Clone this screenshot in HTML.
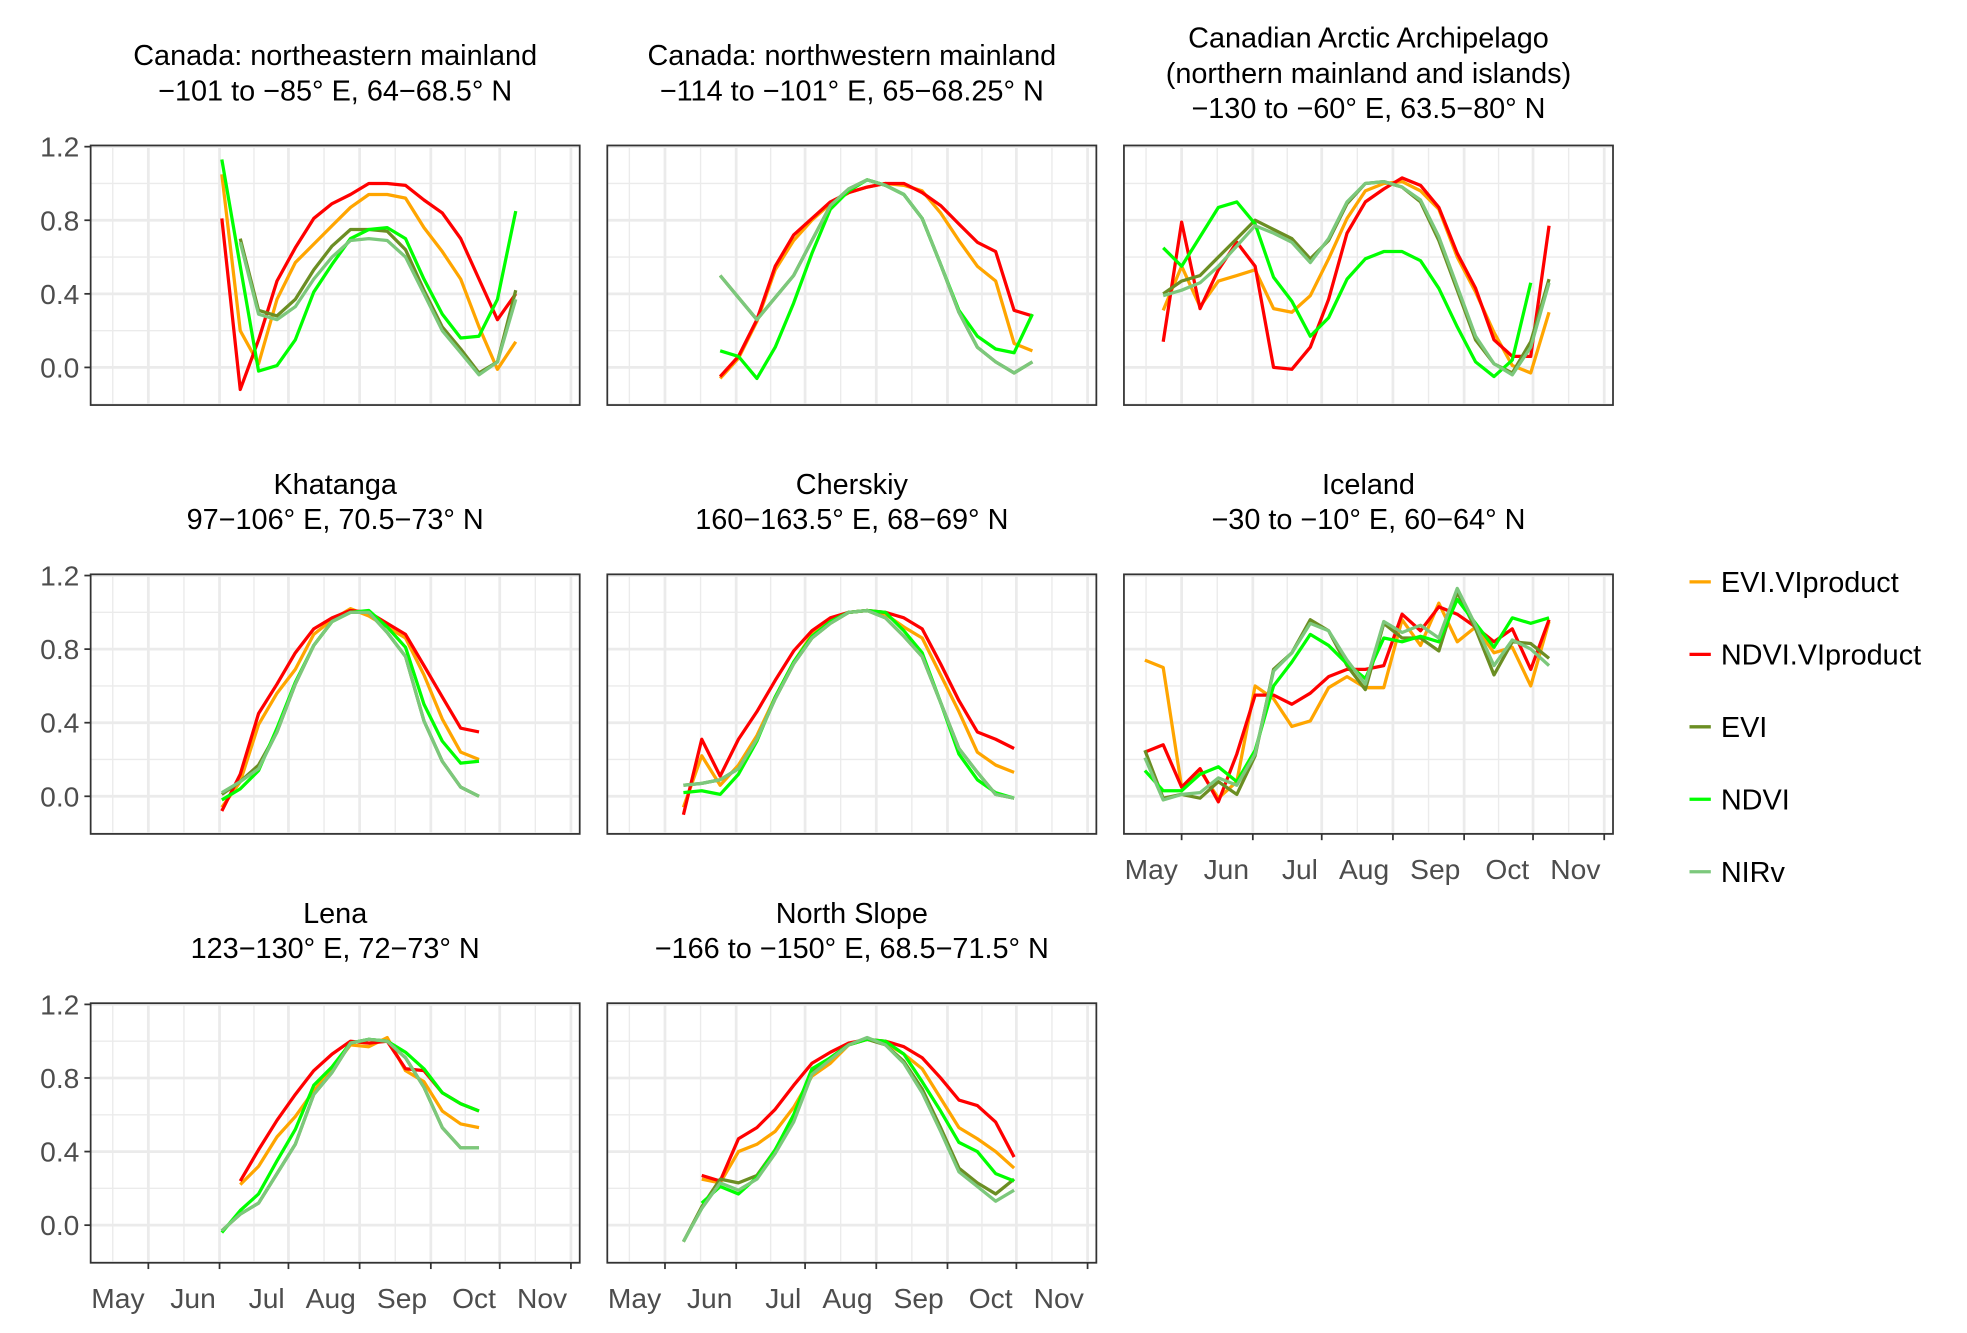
<!DOCTYPE html>
<html><head><meta charset="utf-8"><style>
html,body{margin:0;padding:0;background:#fff;}
svg{display:block;font-family:"Liberation Sans",Arial,sans-serif;}
</style></head><body>
<svg id="chart" width="1967" height="1333" viewBox="0 0 1568 1063" xmlns="http://www.w3.org/2000/svg"></svg>
<script>
// ---- data ----
const panelTitles = [
  ["Canada: northeastern mainland","\u2212101 to \u221285\u00b0 E, 64\u221268.5\u00b0 N"],
  ["Canada: northwestern mainland","\u2212114 to \u2212101\u00b0 E, 65\u221268.25\u00b0 N"],
  ["Canadian Arctic Archipelago","(northern mainland and islands)","\u2212130 to \u221260\u00b0 E, 63.5\u221280\u00b0 N"],
  ["Khatanga","97\u2212106\u00b0 E, 70.5\u221273\u00b0 N"],
  ["Cherskiy","160\u2212163.5\u00b0 E, 68\u221269\u00b0 N"],
  ["Iceland","\u221230 to \u221210\u00b0 E, 60\u221264\u00b0 N"],
  ["Lena","123\u2212130\u00b0 E, 72\u221273\u00b0 N"],
  ["North Slope","\u2212166 to \u2212150\u00b0 E, 68.5\u221271.5\u00b0 N"]
];
const startDoy = [153,145,113,153,129,105,153,129];
const seriesNames = ["EVI.VIproduct","NDVI.VIproduct","EVI","NDVI","NIRv"];
const seriesColors = ["#FFA500","#FF0000","#6B8E23","#00FF00","#7CC87C"];
const yTicks = [0.0,0.4,0.8,1.2];
const yTickLabels = ["0.0","0.4","0.8","1.2"];
const monthLabels = ["May","Jun","Jul","Aug","Sep","Oct","Nov"];
const monthDoy = [121,152,182,213,244,274,305];

const evip = [
 [1.05,0.2,0.02,0.37,0.57,0.67,0.77,0.87,0.94,0.94,0.92,0.76,0.63,0.48,0.22,-0.01,0.14],
 [-0.06,0.05,0.25,0.53,0.69,0.80,0.89,0.95,0.98,1.0,0.99,0.96,0.84,0.69,0.55,0.47,0.13,0.09],
 [0.31,0.55,0.33,0.47,0.50,0.53,0.32,0.30,0.39,0.59,0.81,0.96,1.0,1.01,0.96,0.86,0.60,0.41,0.19,0.01,-0.03,0.30],
 [-0.06,0.08,0.39,0.56,0.69,0.88,0.96,1.02,0.98,0.92,0.86,0.66,0.42,0.24,0.20],
 [-0.06,0.22,0.06,0.17,0.33,0.54,0.73,0.88,0.95,1.0,1.01,0.99,0.92,0.86,0.66,0.46,0.24,0.17,0.13],
 [0.74,0.70,0.05,0.14,-0.01,0.08,0.60,0.53,0.38,0.41,0.59,0.65,0.59,0.59,0.96,0.82,1.05,0.84,0.92,0.78,0.81,0.60,0.95],
 [null,0.22,0.32,0.48,0.59,0.73,0.85,0.98,0.97,1.02,0.84,0.78,0.62,0.55,0.53],
 [null,0.25,0.23,0.40,0.44,0.51,0.64,0.81,0.88,0.98,1.01,0.99,0.93,0.85,0.69,0.53,0.47,0.40,0.31]
];
const ndvip = [
 [0.81,-0.12,0.15,0.47,0.65,0.81,0.89,0.94,1.0,1.0,0.99,0.91,0.84,0.70,0.48,0.26,0.40],
 [-0.05,0.06,0.26,0.55,0.72,0.81,0.90,0.95,0.98,1.0,1.0,0.95,0.88,0.78,0.68,0.63,0.31,0.28],
 [0.14,0.79,0.32,0.53,0.68,0.55,0.0,-0.01,0.11,0.37,0.73,0.90,0.97,1.03,0.99,0.87,0.62,0.43,0.15,0.06,0.06,0.77],
 [-0.08,0.12,0.45,0.61,0.78,0.91,0.97,1.01,1.0,0.94,0.88,0.71,0.54,0.37,0.35],
 [-0.10,0.31,0.11,0.31,0.46,0.63,0.79,0.90,0.97,1.0,1.01,1.0,0.97,0.91,0.72,0.52,0.35,0.31,0.26],
 [0.24,0.28,0.05,0.15,-0.03,0.23,0.55,0.55,0.50,0.56,0.65,0.69,0.69,0.71,0.99,0.90,1.03,0.99,0.92,0.84,0.91,0.69,0.96],
 [null,0.24,0.41,0.57,0.71,0.84,0.93,1.0,0.99,1.0,0.85,0.84,0.72,0.66,0.62],
 [null,0.27,0.24,0.47,0.53,0.63,0.76,0.88,0.94,0.99,1.01,1.0,0.97,0.91,0.80,0.68,0.65,0.56,0.37]
];
const evi = [
 [null,0.70,0.31,0.28,0.37,0.53,0.66,0.75,0.75,0.74,0.64,0.42,0.22,0.10,-0.03,0.03,0.42],
 [0.50,0.38,0.26,0.38,0.50,0.69,0.88,0.97,1.02,0.99,0.94,0.81,0.56,0.30,0.11,0.03,-0.03,0.03],
 [0.40,0.47,0.50,0.60,0.70,0.80,0.75,0.70,0.59,0.69,0.89,1.0,1.01,0.98,0.90,0.69,0.42,0.15,0.02,-0.03,0.14,0.48],
 [0.01,0.08,0.17,0.35,0.61,0.82,0.95,1.0,1.0,0.89,0.76,0.41,0.19,0.05,0.0],
 [0.06,0.07,0.09,0.15,0.31,0.53,0.72,0.86,0.94,1.0,1.01,0.97,0.87,0.76,0.51,0.26,0.13,0.01,-0.01],
 [0.25,-0.01,0.01,-0.01,0.08,0.01,0.22,0.69,0.78,0.96,0.90,0.71,0.58,0.94,0.86,0.86,0.79,1.11,0.91,0.66,0.84,0.83,0.75],
 [-0.03,0.06,0.12,0.28,0.44,0.71,0.83,0.99,1.01,1.0,0.91,0.75,0.53,0.42,0.42],
 [-0.09,0.10,0.25,0.23,0.27,0.41,0.58,0.83,0.91,0.98,1.01,0.98,0.89,0.74,0.53,0.31,0.23,0.17,0.25]
];
const ndvi = [
 [1.13,0.55,-0.02,0.01,0.15,0.41,0.56,0.70,0.75,0.76,0.70,0.48,0.29,0.16,0.17,0.37,0.85],
 [0.09,0.06,-0.06,0.11,0.35,0.62,0.86,0.96,1.02,0.99,0.94,0.81,0.56,0.31,0.17,0.10,0.08,0.29],
 [0.65,0.55,0.71,0.87,0.90,0.78,0.49,0.36,0.17,0.27,0.48,0.59,0.63,0.63,0.58,0.43,0.22,0.03,-0.05,0.04,0.46,null],
 [-0.02,0.04,0.14,0.37,0.62,0.82,0.95,1.0,1.01,0.92,0.81,0.50,0.30,0.18,0.19],
 [0.02,0.03,0.01,0.12,0.30,0.54,0.73,0.87,0.95,1.0,1.01,1.0,0.90,0.78,0.51,0.23,0.09,0.02,-0.01],
 [0.14,0.03,0.03,0.12,0.16,0.08,0.25,0.60,0.73,0.88,0.82,0.72,0.64,0.86,0.84,0.87,0.84,1.07,0.94,0.81,0.97,0.94,0.97],
 [-0.04,0.08,0.17,0.35,0.52,0.76,0.86,0.99,1.01,1.0,0.94,0.85,0.72,0.66,0.62],
 [null,0.12,0.21,0.17,0.26,0.41,0.60,0.85,0.91,0.98,1.01,1.0,0.93,0.78,0.62,0.45,0.40,0.28,0.24]
];
const nirv = [
 [null,0.68,0.29,0.26,0.33,0.48,0.60,0.69,0.70,0.69,0.60,0.40,0.20,0.08,-0.04,0.03,0.37],
 [0.50,0.38,0.26,0.38,0.50,0.69,0.88,0.97,1.02,0.99,0.94,0.81,0.56,0.30,0.11,0.03,-0.03,0.03],
 [0.39,0.42,0.46,0.55,0.66,0.77,0.73,0.68,0.57,0.70,0.90,1.0,1.01,0.98,0.91,0.71,0.44,0.17,0.02,-0.04,0.11,0.46],
 [0.02,0.08,0.15,0.35,0.61,0.82,0.95,1.0,1.0,0.89,0.76,0.41,0.19,0.05,0.0],
 [0.06,0.07,0.09,0.15,0.31,0.53,0.72,0.86,0.94,1.0,1.01,0.97,0.87,0.76,0.51,0.26,0.13,0.01,-0.01],
 [0.21,-0.02,0.01,0.02,0.10,0.06,0.23,0.68,0.78,0.94,0.90,0.74,0.61,0.95,0.89,0.93,0.86,1.13,0.93,0.71,0.85,0.80,0.71],
 [-0.03,0.06,0.12,0.28,0.44,0.71,0.83,0.99,1.01,1.0,0.91,0.75,0.53,0.42,0.42],
 [-0.09,0.09,0.23,0.19,0.25,0.39,0.56,0.82,0.90,0.98,1.02,0.98,0.88,0.72,0.51,0.29,0.21,0.13,0.19]
];
const allSeries = [evip, ndvip, evi, ndvi, nirv];

// ---- layout ----
const NS = "http://www.w3.org/2000/svg";
const svg = document.getElementById("chart");
const colLeft = [72,484,896], rowTop = [116,458,800];
const PW = 390, PH = 207;
function mk(tag, attrs, parent){ const e=document.createElementNS(NS,tag); for(const k in attrs) e.setAttribute(k,attrs[k]); (parent||svg).appendChild(e); return e; }
function xScale(left, doy){ return left + 46 + (doy-121)*1.8315; }
function yScale(top, v){ return top + 177 - v*146.7; }

for(let p=0;p<8;p++){
  const col=p%3, row=Math.floor(p/3);
  const L=colLeft[col], T=rowTop[row];
  const g = mk("g",{});
  
  
  // title
  const lines = panelTitles[p];
  const cx = L+PW/2;
  const lastY = lines.length===3 ? T-22 : T-36;
  lines.forEach((ln,i)=>{
    const t = mk("text",{x:cx,y:lastY-(lines.length-1-i)*28,"text-anchor":"middle","font-size":"23",fill:"#000"},g);
    t.textContent = ln;
    
    
  });
  const bg = mk("rect",{x:L,y:T,width:PW,height:PH,fill:"#fff"},g);
  
  
  const minorDoys=[105.5];
  for(let i=0;i<monthDoy.length-1;i++) minorDoys.push((monthDoy[i]+monthDoy[i+1])/2);
  minorDoys.forEach(d=>{ const x=xScale(L,d); mk("line",{x1:x,x2:x,y1:T,y2:T+PH,stroke:"#ebebeb","stroke-width":1.1},g); });
  [-0.2,0.2,0.6,1.0].forEach(v=>{ const y=yScale(T,v); mk("line",{x1:L,x2:L+PW,y1:y,y2:y,stroke:"#ebebeb","stroke-width":1.1},g); });
  monthDoy.forEach(d=>{ const x=xScale(L,d); mk("line",{x1:x,x2:x,y1:T,y2:T+PH,stroke:"#ebebeb","stroke-width":2.2},g); });
  yTicks.forEach(v=>{ const y=yScale(T,v); mk("line",{x1:L,x2:L+PW,y1:y,y2:y,stroke:"#ebebeb","stroke-width":2.2},g); });
  allSeries.forEach((ser,si)=>{
    const vals = ser[p]; let d=""; let pen=false;
    vals.forEach((v,i)=>{
      if(v===null){pen=false;return;}
      const x=xScale(L,startDoy[p]+8*i), y=yScale(T,v);
      d += (pen?"L":"M")+x.toFixed(1)+","+y.toFixed(1); pen=true;
    });
    const path = mk("path",{d:d,fill:"none",stroke:seriesColors[si],"stroke-width":2.6,"stroke-linejoin":"round"},g);
    
    
  });
  const border = mk("rect",{x:L,y:T,width:PW,height:PH,fill:"none",stroke:"#333","stroke-width":1.4},g);
  
  
  if(col===0){
    yTicks.forEach((v,i)=>{
      const y=yScale(T,v);
      mk("line",{x1:L-5,x2:L,y1:y,y2:y,stroke:"#333","stroke-width":1.4},g);
      const t=mk("text",{x:L-9,y:y+8,"text-anchor":"end","font-size":"22.5",fill:"#4d4d4d"},g);
      t.textContent=yTickLabels[i];
      
      
    });
  }
  if(p>=5){
    monthDoy.forEach((d,i)=>{
      const x=xScale(L,d);
      mk("line",{x1:x,x2:x,y1:T+PH,y2:T+PH+5,stroke:"#333","stroke-width":1.4},g);
      const t=mk("text",{x:x-3,y:T+PH+36,"text-anchor":"end","font-size":"22.5",fill:"#4d4d4d"},g);
      t.textContent=monthLabels[i];
      
      
    });
  }
}
const lg = mk("g",{});


seriesNames.forEach((n,i)=>{
  const y = 464 + i*57.8;
  mk("line",{x1:1347,x2:1364,y1:y,y2:y,stroke:seriesColors[i],"stroke-width":2.6},lg);
  const t=mk("text",{x:1372,y:y+8,"font-size":"23",fill:"#000"},lg);
  t.textContent=n;
  
  
});
</script>
</body></html>
